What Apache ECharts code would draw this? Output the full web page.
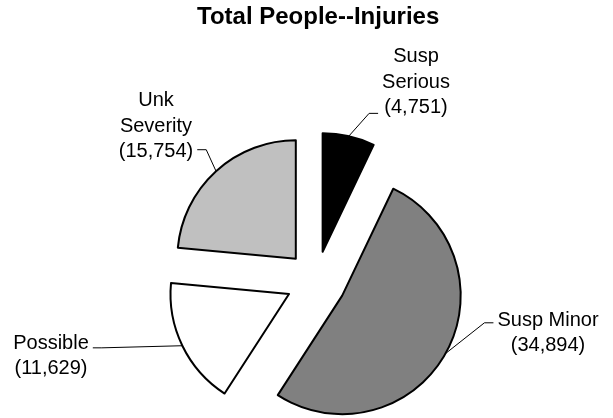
<!DOCTYPE html>
<html>
<head>
<meta charset="utf-8">
<script src="https://cdn.jsdelivr.net/npm/echarts@6/dist/echarts.min.js"></script>
<style>
html,body{margin:0;padding:0;background:#fff;}
#chart{width:613px;height:418px;}
</style>
</head>
<body>
<div id="chart"></div>
<script>
// Data
var categories = ['Susp\nSerious', 'Susp Minor', 'Possible', 'Unk\nSeverity'];
var values = [4751, 34894, 11629, 15754];
var titleText = 'Total People--Injuries';

// Styles / layout (kept separate from data)
var sliceColors = ['#000000', '#808080', '#ffffff', '#c0c0c0'];
var labelCenters = [[416, 82], [548, 333], [51, 356], [156, 126]];
// which side of the label the leader line attaches to, and at what height fraction
var labelAnchors = [['left', 0.91], ['left', 0.30], ['right', 0.34], ['right', 0.81]];
var anchorGap = 4;
var anchorStub = 9;
var pieCenter = [316, 281];
var pieRadius = 118.5;
var explode = 30;

function fmt(n) { return n.toLocaleString('en-US'); }

var chart = echarts.init(document.getElementById('chart'), null, {renderer: 'canvas'});
var FONT = "'Liberation Sans', Arial, sans-serif";

var total = values.reduce(function (a, b) { return a + b; }, 0);
var cum = 0;
var series = values.map(function (v, k) {
  var mid = (cum + v / 2) / total * 2 * Math.PI;
  cum += v;
  var c = [pieCenter[0] + explode * Math.sin(mid), pieCenter[1] - explode * Math.cos(mid)];
  return {
    type: 'pie',
    center: c,
    radius: pieRadius,
    startAngle: 90,
    clockwise: true,
    avoidLabelOverlap: false,
    emphasis: {disabled: true},
    labelLine: {
      show: true, length: 10, length2: 8, smooth: false,
      lineStyle: {color: '#000', width: 1}
    },
    label: {
      show: true,
      position: 'outside',
      fontFamily: FONT,
      fontSize: 20,
      lineHeight: 25.5,
      color: '#000',
      align: 'center',
      formatter: function (p) { return p.name + '\n(' + fmt(p.value) + ')'; }
    },
    labelLayout: function (p) {
      var i = p.dataIndex;
      var lc = labelCenters[i];
      var res = {x: lc[0], y: lc[1], align: 'center', verticalAlign: 'middle'};
      var pts = p.labelLinePoints;
      if (pts && pts.length && p.labelRect) {
        var w = p.labelRect.width, h = p.labelRect.height;
        var a = labelAnchors[i];
        var ay = lc[1] - h / 2 + a[1] * h;
        var ax = a[0] === 'left' ? lc[0] - w / 2 - anchorGap : lc[0] + w / 2 + anchorGap;
        var bx = a[0] === 'left' ? ax - anchorStub : ax + anchorStub;
        res.labelLinePoints = [[pts[0][0], pts[0][1]], [bx, ay], [ax, ay]];
      }
      return res;
    },
    data: categories.map(function (name, i) {
      var own = i === k;
      return {
        name: name,
        value: values[i],
        itemStyle: own ? {color: sliceColors[i], borderColor: '#000', borderWidth: 2}
                       : {color: 'rgba(0,0,0,0)', borderWidth: 0},
        label: {show: own},
        labelLine: {show: own}
      };
    })
  };
});

chart.setOption({
  animation: false,
  backgroundColor: '#ffffff',
  title: {
    text: titleText,
    left: 192,
    top: 0,
    textStyle: {fontFamily: FONT, fontSize: 24, fontWeight: 'bold', color: '#000'}
  },
  series: series
});
</script>
</body>
</html>
